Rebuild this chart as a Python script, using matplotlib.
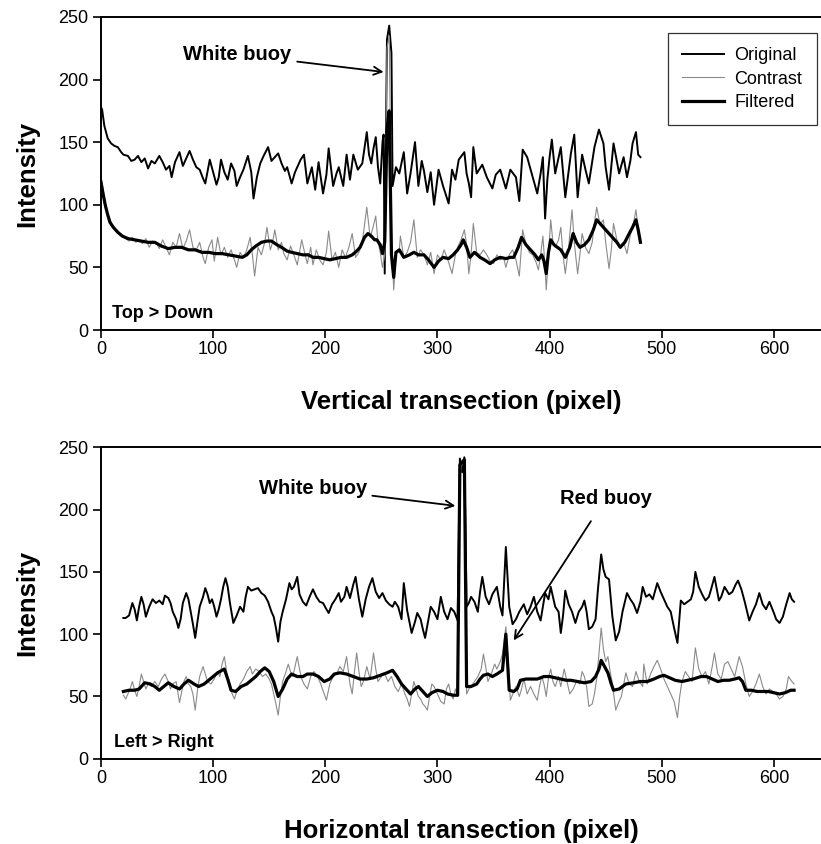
import numpy as np
import matplotlib
matplotlib.use("Agg")
import matplotlib.pyplot as plt

plt.rcParams['font.family'] = ['Liberation Sans', 'DejaVu Sans']

# (pixel, intensity)
top_original = [
    (0, 178), (1, 176), (3, 163), (6, 153), (9, 149), (12, 147), (15, 146), (18, 142), (20, 140),
    (24, 139), (27, 135), (30, 136), (33, 139), (36, 134), (39, 137), (42, 129), (45, 135), (48, 133),
    (52, 139), (55, 134), (58, 128), (61, 131), (63, 122), (66, 134), (70, 142), (73, 131), (76, 137),
    (79, 143), (82, 136), (85, 130), (88, 128), (91, 121), (93, 117), (97, 136), (100, 126), (103, 116),
    (105, 122), (107, 136), (110, 126), (113, 120), (116, 133), (119, 127), (121, 115), (124, 122),
    (127, 128), (131, 139), (134, 126), (136, 105), (139, 122), (142, 133), (145, 139), (149, 146),
    (152, 135), (155, 138), (158, 141), (161, 133), (164, 127), (166, 130), (170, 117), (173, 126),
    (175, 130), (178, 136), (181, 140), (184, 117), (188, 130), (191, 112), (194, 134), (198, 109),
    (201, 124), (203, 145), (207, 115), (210, 125), (212, 130), (216, 115), (219, 140), (222, 120),
    (225, 140), (229, 128), (233, 133), (237, 158), (239, 140), (241, 133), (243, 145), (245, 154),
    (247, 130), (249, 117), (251, 150), (252, 156), (253, 45), (254, 150), (255, 232), (257, 243),
    (259, 221), (260, 115), (263, 130), (266, 125), (270, 142), (273, 109), (276, 125), (280, 150),
    (283, 115), (286, 135), (288, 127), (291, 110), (294, 126), (297, 100), (301, 128), (305, 115),
    (310, 101), (313, 128), (316, 120), (319, 136), (324, 142), (326, 125), (328, 117), (330, 106),
    (332, 146), (335, 125), (340, 132), (344, 122), (349, 113), (352, 124), (356, 128), (361, 113),
    (365, 128), (370, 122), (373, 103), (376, 144), (380, 138), (385, 122), (389, 109), (392, 125),
    (394, 138), (396, 89), (398, 120), (400, 138), (402, 152), (405, 125), (410, 146), (414, 106),
    (419, 141), (422, 156), (425, 106), (429, 140), (432, 128), (435, 117), (440, 146), (444, 160),
    (448, 149), (450, 130), (453, 112), (457, 149), (462, 125), (466, 138), (469, 122), (472, 135),
    (474, 149), (477, 158), (479, 140), (481, 138),
]

top_contrast = [
    (0, 122), (2, 112), (4, 100), (6, 93), (8, 88), (10, 84), (13, 80), (16, 77), (19, 76), (22, 73),
    (25, 71), (28, 74), (31, 70), (34, 72), (37, 69), (40, 73), (43, 66), (46, 71), (49, 70), (52, 65),
    (55, 72), (58, 66), (61, 60), (64, 70), (67, 66), (70, 77), (73, 65), (76, 71), (79, 80), (82, 66),
    (85, 64), (88, 70), (91, 58), (93, 53), (96, 66), (99, 72), (101, 55), (104, 74), (107, 60),
    (110, 66), (113, 58), (116, 64), (119, 56), (121, 50), (124, 62), (127, 58), (130, 64), (133, 74),
    (135, 60), (137, 43), (140, 66), (143, 60), (146, 70), (148, 82), (151, 64), (153, 70), (155, 80),
    (158, 64), (161, 70), (163, 61), (166, 56), (169, 67), (172, 60), (175, 52), (179, 72), (182, 60),
    (184, 53), (187, 66), (189, 52), (192, 64), (195, 56), (198, 52), (201, 62), (203, 79), (206, 56),
    (209, 62), (212, 50), (215, 64), (218, 58), (221, 66), (224, 77), (227, 58), (230, 62), (233, 70),
    (235, 84), (237, 98), (240, 74), (242, 80), (245, 91), (247, 70), (249, 62), (251, 50), (253, 60),
    (255, 225), (257, 235), (259, 80), (261, 32), (263, 60), (266, 64), (267, 75), (270, 58), (273, 62),
    (276, 70), (279, 88), (282, 58), (285, 64), (288, 60), (291, 52), (294, 62), (297, 45), (300, 60),
    (303, 56), (306, 64), (310, 54), (313, 45), (316, 60), (318, 66), (321, 72), (324, 80), (326, 68),
    (328, 45), (330, 60), (332, 85), (335, 62), (338, 60), (341, 64), (344, 60), (347, 55), (350, 53),
    (353, 60), (356, 56), (359, 58), (361, 50), (364, 60), (367, 64), (370, 56), (373, 43), (376, 80),
    (379, 68), (382, 62), (385, 60), (388, 54), (390, 48), (392, 60), (394, 75), (396, 50), (397, 32),
    (399, 60), (401, 88), (403, 70), (405, 66), (408, 72), (410, 82), (412, 60), (414, 45), (417, 66),
    (420, 96), (422, 70), (425, 45), (427, 60), (429, 77), (432, 66), (435, 61), (438, 70), (440, 86),
    (442, 98), (445, 84), (448, 88), (450, 70), (453, 49), (455, 64), (457, 85), (460, 72), (463, 66),
    (466, 70), (469, 61), (472, 76), (475, 86), (477, 96), (479, 80), (481, 70),
]

top_filtered = [
    (0, 118), (2, 108), (4, 99), (6, 92), (8, 86), (11, 82), (15, 78), (19, 75), (24, 73), (30, 72),
    (36, 71), (42, 70), (48, 70), (54, 67), (60, 65), (66, 66), (72, 66), (78, 64), (84, 64), (90, 62),
    (96, 62), (102, 61), (108, 61), (114, 60), (120, 59), (126, 58), (130, 60), (134, 64), (138, 67),
    (143, 70), (148, 71), (152, 71), (157, 68), (161, 66), (166, 63), (170, 62), (175, 61), (180, 60),
    (185, 60), (189, 58), (194, 58), (199, 57), (204, 56), (209, 57), (214, 58), (219, 58), (224, 60),
    (228, 63), (231, 66), (235, 74), (238, 77), (241, 75), (244, 72), (246, 72), (249, 68), (251, 61),
    (253, 70), (255, 160), (257, 175), (259, 60), (261, 42), (263, 62), (266, 64), (270, 58), (275, 60),
    (279, 62), (283, 60), (288, 60), (292, 56), (297, 50), (301, 55), (305, 58), (310, 57), (314, 60),
    (318, 64), (321, 68), (323, 72), (326, 66), (329, 58), (333, 62), (338, 58), (342, 56), (347, 53),
    (351, 56), (356, 58), (361, 57), (365, 58), (368, 58), (372, 66), (375, 74), (379, 68), (383, 64),
    (387, 60), (390, 56), (393, 60), (395, 55), (397, 45), (399, 62), (401, 72), (404, 68), (407, 66),
    (410, 64), (414, 58), (418, 66), (421, 77), (424, 70), (427, 66), (431, 68), (435, 72), (439, 80),
    (442, 88), (445, 85), (448, 82), (452, 78), (456, 74), (460, 70), (463, 66), (467, 70), (471, 77),
    (474, 82), (477, 88), (479, 80), (481, 70),
]

bottom_original = [
    (20, 113), (22, 113), (25, 115), (28, 125), (30, 120), (32, 111), (34, 122), (36, 130), (38, 124),
    (40, 114), (43, 122), (46, 128), (49, 125), (52, 127), (55, 124), (57, 131), (60, 129), (62, 125),
    (64, 118), (67, 112), (69, 105), (71, 112), (73, 125), (76, 133), (78, 128), (80, 118), (82, 108),
    (84, 97), (86, 110), (88, 122), (91, 130), (93, 137), (95, 132), (97, 125), (99, 128), (101, 122),
    (103, 114), (105, 120), (107, 128), (109, 138), (111, 145), (113, 138), (115, 125), (118, 109),
    (121, 115), (124, 122), (127, 118), (129, 130), (131, 138), (134, 135), (137, 136), (140, 137),
    (143, 133), (146, 131), (149, 126), (152, 118), (154, 114), (156, 105), (158, 94), (160, 110),
    (162, 118), (165, 128), (168, 141), (170, 136), (172, 138), (175, 146), (177, 132), (180, 126),
    (183, 123), (186, 130), (189, 136), (192, 130), (195, 126), (198, 125), (201, 120), (203, 117),
    (206, 124), (209, 128), (212, 133), (214, 126), (217, 130), (219, 138), (222, 129), (225, 140),
    (227, 146), (230, 128), (233, 114), (236, 128), (239, 138), (242, 145), (245, 134), (248, 129),
    (251, 133), (254, 127), (257, 124), (260, 122), (262, 126), (265, 122), (268, 112), (270, 141),
    (273, 119), (277, 101), (280, 110), (282, 117), (285, 112), (287, 104), (289, 97), (292, 112),
    (294, 122), (297, 118), (300, 112), (303, 130), (306, 118), (309, 112), (312, 121), (315, 118),
    (318, 111), (320, 241), (322, 230), (324, 242), (326, 122), (328, 125), (330, 130), (333, 126),
    (336, 118), (338, 134), (340, 146), (343, 130), (346, 124), (349, 132), (353, 138), (356, 122),
    (358, 115), (361, 170), (364, 122), (367, 108), (370, 112), (373, 118), (377, 124), (380, 116),
    (383, 122), (386, 130), (389, 118), (392, 111), (396, 133), (399, 128), (401, 138), (405, 122),
    (408, 118), (410, 101), (412, 115), (414, 135), (417, 124), (420, 118), (423, 109), (426, 118),
    (429, 122), (431, 127), (433, 118), (435, 104), (438, 106), (441, 112), (443, 135), (446, 164),
    (448, 152), (450, 146), (453, 144), (456, 114), (459, 95), (462, 102), (465, 118), (469, 133),
    (472, 128), (475, 124), (478, 117), (481, 126), (483, 138), (486, 130), (489, 132), (492, 128),
    (496, 141), (499, 134), (502, 128), (505, 122), (508, 118), (511, 105), (514, 93), (517, 127),
    (520, 124), (523, 126), (526, 128), (528, 134), (530, 150), (533, 138), (536, 132), (539, 127),
    (542, 130), (544, 136), (547, 146), (551, 127), (553, 130), (556, 138), (560, 132), (563, 134),
    (566, 140), (568, 143), (571, 136), (574, 126), (578, 111), (581, 118), (584, 124), (587, 133),
    (590, 124), (593, 120), (596, 126), (600, 117), (602, 112), (605, 109), (608, 114), (611, 124),
    (614, 133), (616, 128), (618, 126),
]

bottom_contrast = [
    (20, 51), (22, 48), (24, 52), (26, 56), (28, 62), (30, 55), (32, 50), (34, 58), (36, 68), (38, 62),
    (40, 56), (42, 60), (45, 58), (48, 62), (51, 58), (54, 64), (57, 68), (60, 62), (62, 56), (64, 60),
    (67, 62), (70, 45), (72, 54), (74, 62), (76, 66), (78, 60), (80, 58), (82, 52), (84, 39), (86, 55),
    (88, 66), (91, 74), (93, 68), (95, 62), (98, 60), (101, 64), (104, 70), (106, 66), (108, 76),
    (110, 82), (112, 70), (114, 60), (117, 52), (119, 48), (121, 54), (124, 60), (127, 64), (130, 70),
    (133, 74), (135, 68), (138, 72), (141, 70), (144, 66), (147, 68), (150, 64), (152, 60), (154, 52),
    (156, 44), (158, 35), (160, 50), (162, 62), (165, 70), (167, 76), (169, 70), (171, 66), (173, 74),
    (175, 82), (177, 72), (179, 64), (181, 60), (184, 56), (187, 66), (190, 70), (193, 66), (196, 60),
    (199, 52), (201, 47), (204, 60), (207, 66), (210, 68), (213, 74), (216, 70), (219, 82), (222, 60),
    (224, 52), (226, 70), (228, 85), (230, 70), (232, 58), (234, 62), (237, 74), (240, 64), (243, 85),
    (245, 72), (247, 62), (250, 66), (253, 68), (256, 62), (259, 66), (262, 58), (265, 54), (268, 60),
    (271, 52), (273, 48), (275, 42), (277, 52), (279, 62), (281, 56), (283, 50), (285, 48), (287, 44),
    (289, 42), (291, 39), (293, 50), (295, 60), (297, 58), (300, 52), (303, 46), (306, 44), (308, 56),
    (310, 60), (312, 52), (314, 48), (316, 56), (318, 50), (320, 225), (322, 240), (324, 232),
    (326, 52), (328, 56), (330, 58), (333, 62), (336, 66), (339, 72), (341, 84), (343, 74), (345, 62),
    (348, 68), (351, 76), (353, 72), (356, 78), (358, 84), (361, 106), (363, 80), (365, 47), (368, 54),
    (370, 58), (373, 50), (375, 56), (377, 64), (380, 52), (383, 58), (386, 52), (389, 47), (391, 58),
    (393, 66), (395, 60), (397, 50), (399, 65), (401, 72), (403, 62), (405, 58), (408, 66), (410, 58),
    (413, 72), (416, 60), (418, 52), (421, 56), (424, 62), (427, 60), (429, 70), (431, 66), (433, 58),
    (435, 42), (438, 44), (440, 52), (442, 64), (444, 84), (446, 105), (448, 88), (450, 78), (452, 82),
    (454, 70), (456, 60), (459, 39), (461, 44), (464, 50), (468, 69), (471, 60), (474, 58), (477, 70),
    (480, 62), (483, 58), (484, 76), (487, 60), (490, 68), (493, 74), (496, 79), (499, 72), (502, 64),
    (505, 58), (508, 52), (511, 46), (514, 33), (516, 50), (518, 62), (521, 70), (524, 66), (527, 62),
    (530, 89), (533, 72), (536, 66), (539, 70), (542, 60), (545, 74), (547, 85), (550, 68), (553, 64),
    (556, 76), (559, 78), (562, 72), (565, 66), (569, 82), (572, 74), (575, 60), (578, 50), (581, 54),
    (584, 60), (587, 68), (590, 58), (593, 52), (596, 56), (599, 54), (602, 52), (605, 48), (608, 50),
    (611, 56), (613, 66), (616, 62), (618, 60),
]

bottom_filtered = [
    (20, 54), (25, 55), (30, 55), (34, 56), (39, 61), (44, 60), (48, 58), (52, 55), (56, 58), (60, 61),
    (65, 58), (70, 56), (74, 60), (78, 63), (83, 60), (87, 58), (92, 60), (96, 63), (100, 66), (104, 69),
    (108, 71), (110, 72), (113, 64), (116, 55), (120, 54), (125, 58), (130, 60), (134, 63), (138, 66),
    (142, 70), (146, 73), (150, 70), (154, 62), (158, 50), (162, 56), (166, 64), (170, 68), (175, 66),
    (180, 66), (184, 68), (189, 68), (194, 66), (199, 62), (204, 64), (208, 68), (213, 69), (219, 68),
    (225, 66), (231, 64), (237, 64), (243, 65), (249, 67), (255, 69), (260, 71), (264, 66), (268, 60),
    (272, 56), (276, 52), (280, 56), (283, 58), (287, 54), (291, 50), (295, 53), (300, 55), (305, 54),
    (309, 52), (314, 51), (318, 51), (320, 236), (322, 238), (324, 240), (326, 58), (330, 58), (335, 60),
    (338, 64), (341, 67), (345, 68), (349, 66), (353, 68), (358, 71), (361, 100), (364, 55), (368, 54),
    (371, 56), (374, 63), (379, 64), (384, 64), (389, 64), (395, 66), (400, 66), (405, 65), (410, 64),
    (415, 63), (419, 63), (425, 62), (431, 61), (437, 62), (441, 66), (444, 72), (446, 79), (449, 74),
    (452, 69), (455, 60), (457, 55), (462, 56), (468, 60), (475, 61), (481, 62), (487, 62), (493, 64),
    (498, 66), (502, 67), (507, 65), (512, 63), (518, 62), (523, 63), (528, 64), (535, 66), (540, 66),
    (545, 64), (550, 62), (555, 63), (560, 63), (565, 64), (569, 65), (572, 62), (575, 55), (580, 55),
    (585, 54), (590, 54), (595, 54), (600, 53), (605, 52), (610, 53), (615, 55), (618, 55),
]

y_ticks = [0, 50, 100, 150, 200, 250]
x_ticks = [0, 100, 200, 300, 400, 500, 600]


def style_axes(ax, xlabel):
    ax.set_xlim(0, 642)
    ax.set_ylim(0, 250)
    ax.set_xticks(x_ticks)
    ax.set_yticks(y_ticks)
    ax.tick_params(direction='out', length=6, width=1.2, labelsize=13)
    ax.tick_params(axis='x', pad=2)
    ax.tick_params(axis='y', pad=3)
    ax.spines['right'].set_visible(False)
    for s in ['left', 'bottom', 'top']:
        ax.spines[s].set_linewidth(1.4)
    ax.set_ylabel('Intensity', fontsize=18.5, fontweight='bold', labelpad=14)
    ax.set_xlabel(xlabel, fontsize=18.5, fontweight='bold', labelpad=23)


def draw(ax, orig, contr, filt):
    ox, oy = np.array(orig).T
    cx, cy = np.array(contr).T
    fx, fy = np.array(filt).T
    ax.plot(ox, oy, color='black', lw=1.4, label='Original')
    ax.plot(cx, cy, color='#8a8a8a', lw=0.8, label='Contrast')
    ax.plot(fx, fy, color='black', lw=2.3, label='Filtered')


fig = plt.figure(figsize=(8.21, 8.44), dpi=100)
ax1 = fig.add_axes([0.123, 0.609, 0.877, 0.371])
ax2 = fig.add_axes([0.123, 0.101, 0.877, 0.369])

draw(ax1, top_original, top_contrast, top_filtered)
style_axes(ax1, 'Vertical transection (pixel)')
leg = ax1.legend(loc='upper right', bbox_to_anchor=(0.994, 0.949), borderaxespad=0, fontsize=13,
                 frameon=True, fancybox=False, edgecolor='black', handlelength=2.3,
                 borderpad=0.8, labelspacing=0.35, handletextpad=0.6)
leg.get_frame().set_linewidth(0.9)
ax1.annotate('White buoy', xy=(252, 206), xytext=(170, 220), fontsize=14.5, fontweight='bold',
             ha='right', va='center',
             arrowprops=dict(arrowstyle='->', color='black', lw=1.3, shrinkA=2, shrinkB=0))
ax1.text(10, 13, 'Top > Down', fontsize=13, fontweight='bold', va='center')

draw(ax2, bottom_original, bottom_contrast, bottom_filtered)
style_axes(ax2, 'Horizontal transection (pixel)')
ax2.annotate('White buoy', xy=(316, 203), xytext=(237, 217), fontsize=14.5, fontweight='bold',
             ha='right', va='center',
             arrowprops=dict(arrowstyle='->', color='black', lw=1.3, shrinkA=2, shrinkB=0))
ax2.annotate('Red buoy', xy=(368, 95), xytext=(450, 209), fontsize=14.5, fontweight='bold',
             ha='center', va='center',
             arrowprops=dict(arrowstyle='->', color='black', lw=1.3, shrinkA=9, shrinkB=0))
ax2.text(12, 13, 'Left > Right', fontsize=13, fontweight='bold', va='center')

fig.savefig('out.png', dpi=100)
